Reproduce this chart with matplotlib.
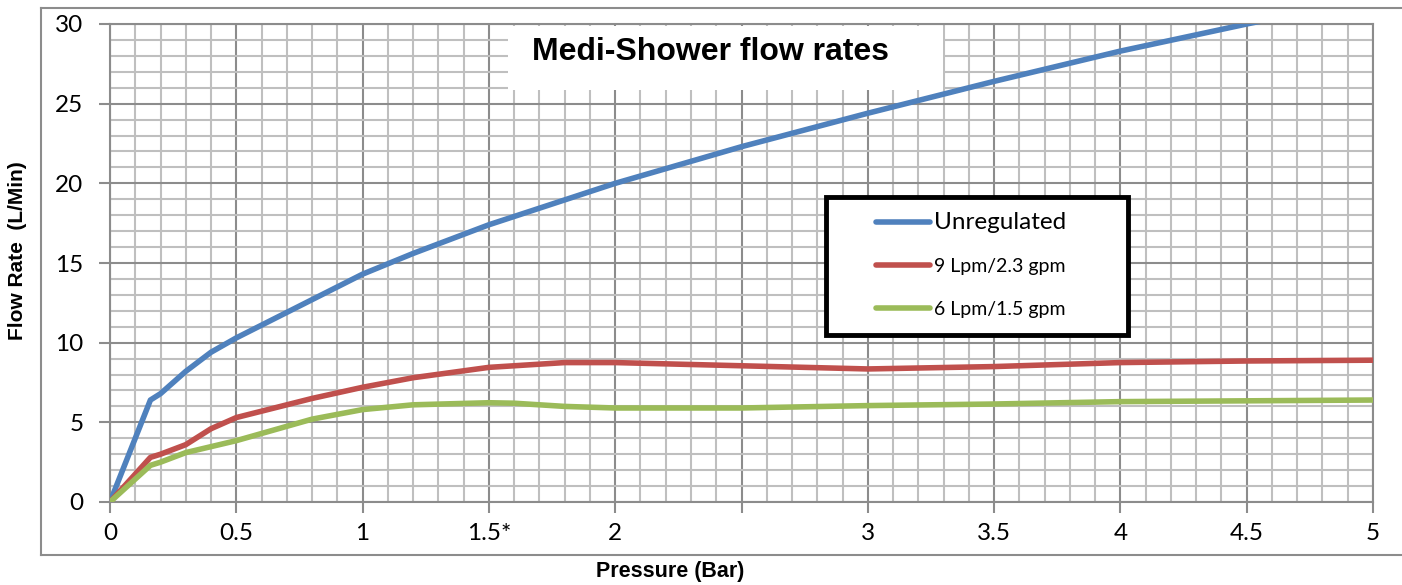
import matplotlib
matplotlib.use("Agg")
import matplotlib.pyplot as plt
from matplotlib.lines import Line2D
from matplotlib.patches import Rectangle

# data
unreg_p = [0, 0.16, 0.2, 0.3, 0.4, 0.5, 0.6, 0.8, 1.0, 1.2, 1.5, 2.0, 2.5, 3.0, 3.5, 4.0, 4.5, 5.0]
unreg_q = [0, 6.4, 6.8, 8.2, 9.4, 10.3, 11.1, 12.7, 14.3, 15.6, 17.4, 20.0, 22.3, 24.4, 26.4, 28.3, 30.0, 31.6]

reg9_p = [0, 0.16, 0.2, 0.3, 0.4, 0.5, 0.6, 0.8, 1.0, 1.2, 1.5, 1.8, 2.0, 2.5, 3.0, 3.5, 4.0, 4.5, 5.0]
reg9_q = [0, 2.8, 3.0, 3.6, 4.6, 5.3, 5.7, 6.5, 7.2, 7.8, 8.45, 8.75, 8.75, 8.55, 8.35, 8.5, 8.75, 8.85, 8.9]

reg6_p = [0, 0.16, 0.2, 0.3, 0.5, 0.8, 1.0, 1.2, 1.5, 1.6, 1.8, 2.0, 2.5, 3.0, 3.5, 4.0, 4.5, 5.0]
reg6_q = [0, 2.3, 2.5, 3.1, 3.85, 5.2, 5.8, 6.1, 6.23, 6.2, 6.0, 5.9, 5.9, 6.05, 6.15, 6.3, 6.35, 6.4]

series_labels = ["Unregulated", "9 Lpm/2.3 gpm", "6 Lpm/1.5 gpm"]
series_colors = ["#4f81bd", "#c0504d", "#9bbb59"]

x_ticks = [0, 0.5, 1, 1.5, 2, 2.5, 3, 3.5, 4, 4.5, 5]
x_ticklabels = ["0", "0.5", "1", "1.5*", "2", "", "3", "3.5", "4", "4.5", "5"]
y_ticks = [0, 5, 10, 15, 20, 25, 30]

W, H = 1402, 585
fig = plt.figure(figsize=(W / 100, H / 100), dpi=100)

def fx(px):
    return px / W

def fy(py):
    return 1 - py / H

ax = fig.add_axes([fx(110), fy(502), fx(1373) - fx(110), fy(24) - fy(502)])

for p, q, lab, c in zip([unreg_p, reg9_p, reg6_p], [unreg_q, reg9_q, reg6_q],
                        series_labels, series_colors):
    ax.plot(p, q, color=c, lw=4, label=lab, solid_capstyle="round", zorder=3)

ax.set_xlim(0, 5)
ax.set_ylim(0, 30)
ax.set_xticks(x_ticks)
ax.set_xticklabels(x_ticklabels)
ax.set_yticks(y_ticks)
ax.set_xticks([i / 10 for i in range(51)], minor=True)
ax.set_yticks(range(31), minor=True)

ax.grid(which="minor", color="#bfbfbf", lw=1.5, zorder=0)
ax.grid(which="major", color="#8c8c8c", lw=1.5, zorder=0)
ax.set_axisbelow(True)
ax.tick_params(which="minor", length=0)
ax.tick_params(which="major", length=8, width=1.5, color="#8c8c8c",
               labelsize=17.5, pad=7)
ax.tick_params(axis="y", pad=11)
for lbl in ax.get_xticklabels() + ax.get_yticklabels():
    lbl.set_fontfamily("Lato")
for s in ax.spines.values():
    s.set_color("#8c8c8c")
    s.set_linewidth(1.5)

# legend: black framed box drawn by hand, entries placed inside it
def ax_x(px):
    return (px - 110) / (1373 - 110)

def ax_y(py):
    return (502 - py) / (502 - 24)

ax.add_patch(Rectangle((ax_x(826), ax_y(335)), ax_x(1128) - ax_x(826),
                       ax_y(197) - ax_y(335), transform=ax.transAxes,
                       facecolor="white", edgecolor="black", lw=3.5, zorder=4))
leg = ax.legend(loc="upper left", bbox_to_anchor=(ax_x(876), ax_y(212)),
                frameon=False, handlelength=2.8, handletextpad=0.2,
                labelspacing=1.3, borderpad=0, borderaxespad=0,
                prop={"family": "Lato", "size": 14})
leg.get_texts()[0].set_fontsize(17.5)
leg.set_zorder(5)

# outer chart frame
for xs, ys in [([41, 41], [8, 555]), ([41, W], [8, 8]), ([41, W], [555, 555])]:
    fig.add_artist(Line2D([fx(v) for v in xs], [fy(v) for v in ys],
                          color="#8c8c8c", lw=1.5))

# title box
fig.add_artist(Rectangle((fx(508), fy(90)), fx(943) - fx(508), fy(26) - fy(90),
                         facecolor="white", edgecolor="none", zorder=2))
fig.text(fx(710), fy(52), "Medi-Shower flow rates", ha="center", va="center",
         fontsize=23, fontweight="bold", family="Liberation Sans", zorder=3)

fig.text(fx(670), fy(571), "Pressure (Bar)", ha="center", va="center",
         fontsize=15.5, fontweight="bold", family="Liberation Sans")
fig.text(fx(18), fy(251), "Flow Rate  (L/Min)", ha="center", va="center",
         rotation=90, fontsize=15, fontweight="bold", family="Liberation Sans")

fig.savefig("out.png", dpi=100)
